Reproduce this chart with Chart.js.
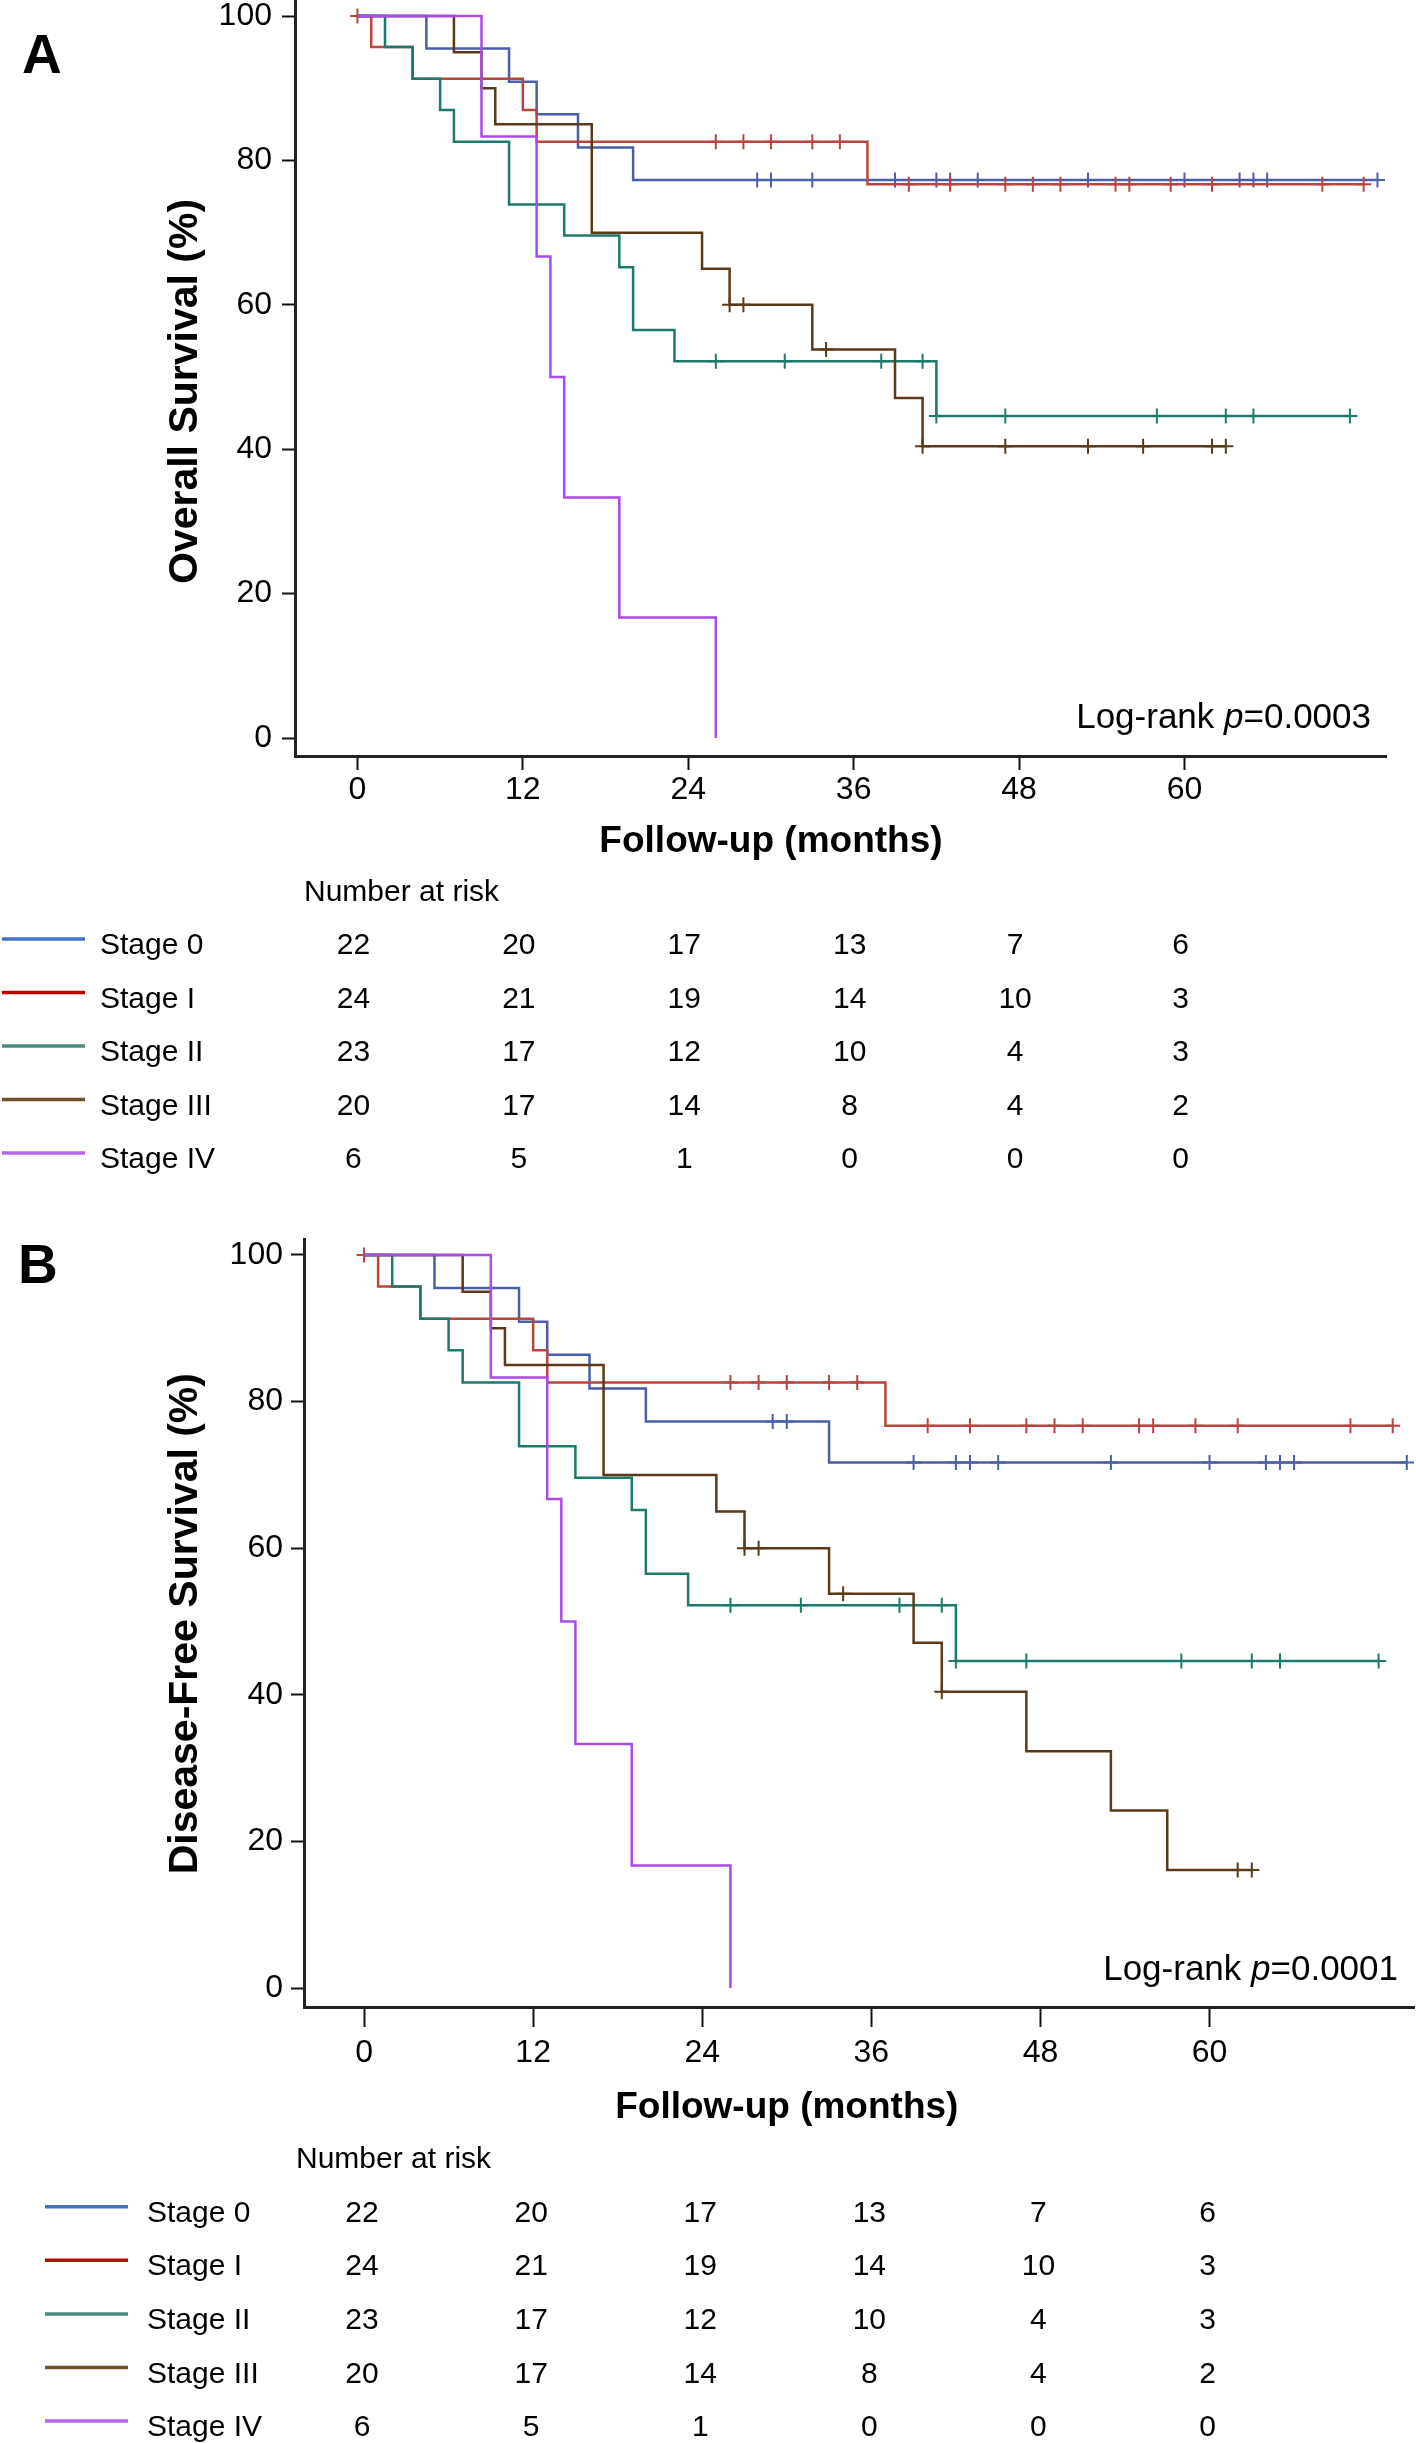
<!DOCTYPE html>
<html>
<head>
<meta charset="utf-8">
<script src="https://cdn.jsdelivr.net/npm/chart.js@4.4.1/dist/chart.umd.min.js"></script>
<style>
  body { margin: 0; background: #fff; }
  #wrap { position: relative; width: 1416px; height: 2443px; }
  canvas { position: absolute; left: 0; }
</style>
</head>
<body>
<div id="wrap">
  <canvas id="chartA" width="1416" height="1200" style="top:0"></canvas>
  <canvas id="chartB" width="1416" height="1243" style="top:1200px"></canvas>
</div>
<script>
const FONT = '"Liberation Sans", Arial, Helvetica, sans-serif'

// common stuff
const stageNames = ['Stage 0', 'Stage I', 'Stage II', 'Stage III', 'Stage IV']
const monthTicks = [0, 12, 24, 36, 48, 60]
const survTicks = [0, 20, 40, 60, 80, 100]
const curveColors = ['#4b5ea8', '#b9463d', '#1c7a6c', '#5a3a18', '#a84be8']
const keyColors = ['#4472c4', '#c00000', '#4a8b80', '#70502d', '#b36ae6']

// number at risk (same in both panels)
const riskStage0 = [22, 20, 17, 13, 7, 6]
const riskStage1 = [24, 21, 19, 14, 10, 3]
const riskStage2 = [23, 17, 12, 10, 4, 3]
const riskStage3 = [20, 17, 14, 8, 4, 2]
const riskStage4 = [6, 5, 1, 0, 0, 0]

// A - overall survival (event times in months, survival %, censored times)
const os0Times = [0, 5, 11, 13, 16, 20]
const os0Surv = [100, 95.5, 90.9, 86.4, 81.8, 77.3]
const os0Cens = [29, 30, 33, 39, 42, 43, 45, 53, 60, 64, 65, 66, 74]

const os1Times = [0, 1, 4, 12, 13, 37]
const os1Surv = [100, 95.7, 91.3, 87.0, 82.6, 76.7]
const os1Cens = [0, 26, 28, 30, 33, 35, 40, 43, 47, 49, 51, 55, 56, 59, 62, 70, 73]

const os2Times = [0, 2, 4, 6, 7, 11, 15, 19, 20, 23, 42]
const os2Surv = [100, 95.7, 91.3, 87.0, 82.6, 73.9, 69.6, 65.2, 56.5, 52.2, 44.6]
const os2Cens = [26, 31, 38, 41, 42, 47, 58, 63, 65, 72]

const os3Times = [0, 7, 9, 10, 17, 25, 27, 33, 39, 41]
const os3Surv = [100, 95, 90, 85, 70, 65, 60, 53.8, 47.1, 40.4]
const os3Cens = [27, 28, 34, 41, 47, 53, 57, 62, 63]

const os4Times = [0, 9, 13, 14, 15, 19, 26]
const os4Surv = [100, 83.3, 66.7, 50, 33.3, 16.7, 0]
const os4Cens = []

// B - disease free survival
const dfs0Times = [0, 5, 11, 13, 16, 20, 33]
const dfs0Surv = [100, 95.5, 90.9, 86.4, 81.8, 77.3, 71.7]
const dfs0Cens = [29, 30, 39, 42, 43, 45, 53, 60, 64, 65, 66, 74]

const dfs1Times = [0, 1, 4, 12, 13, 37]
const dfs1Surv = [100, 95.7, 91.3, 87.0, 82.6, 76.7]
const dfs1Cens = [0, 26, 28, 30, 33, 35, 40, 43, 47, 49, 51, 55, 56, 59, 62, 70, 73]

const dfs2Times = [0, 2, 4, 6, 7, 11, 15, 19, 20, 23, 42]
const dfs2Surv = [100, 95.7, 91.3, 87.0, 82.6, 73.9, 69.6, 65.2, 56.5, 52.2, 44.6]
const dfs2Cens = [26, 31, 38, 41, 42, 47, 58, 63, 65, 72]

const dfs3Times = [0, 7, 9, 10, 17, 25, 27, 33, 39, 41, 47, 53, 57]
const dfs3Surv = [100, 95, 90, 85, 70, 65, 60, 53.8, 47.1, 40.4, 32.3, 24.2, 16.1]
const dfs3Cens = [27, 28, 34, 41, 62, 63]

const dfs4Times = [0, 9, 13, 14, 15, 19, 26]
const dfs4Surv = [100, 83.3, 66.7, 50, 33.3, 16.7, 0]
const dfs4Cens = []


function survAt(times, surv, t){
    let s = surv[0]
    for (let i = 0; i < times.length; i++) {
        if (times[i] <= t) s = surv[i]
    }
    return s
}

function curvePoints(times, surv, cens){
    const pts = times.map((t, i) => ({x: t, y: surv[i]}))
    const lastT = times[times.length - 1]
    const end = Math.max(lastT, ...cens)
    if (end > lastT) pts.push({x: end, y: surv[surv.length - 1]})
    return pts
}

function buildDatasets(groups){
    const sets = []
    // stage IV first so it is painted on top (index 0 is drawn last)
    for (let k = groups.length - 1; k >= 0; k--) {
        const g = groups[k]
        sets.push({
            data: g.cens.map(t => ({x: t, y: survAt(g.times, g.surv, t)})),
            showLine: false,
            pointStyle: 'cross',
            pointRadius: 7.5,
            pointHoverRadius: 7.5,
            pointBorderWidth: 2,
            pointBorderColor: curveColors[k],
            borderColor: curveColors[k]
        })
        sets.push({
            data: curvePoints(g.times, g.surv, g.cens),
            stepped: true,
            borderColor: curveColors[k],
            borderWidth: 2.5,
            pointRadius: 0,
            fill: false
        })
    }
    return sets
}

const kmExtras = {
    id: 'kmExtras',
    afterDraw(chart, args, o){
        const ctx = chart.ctx
        const xs = chart.scales.x
        const ys = chart.scales.y
        ctx.save()
        ctx.fillStyle = '#000'

        // panel letter
        ctx.font = 'bold 55px ' + FONT
        ctx.textAlign = 'left'
        ctx.textBaseline = 'alphabetic'
        ctx.fillText(o.letter, o.letterX, o.letterY)

        // y title
        ctx.save()
        ctx.translate(o.yTitleX, ys.getPixelForValue(o.yTitleAt))
        ctx.rotate(-Math.PI / 2)
        ctx.font = 'bold 41px ' + FONT
        ctx.textAlign = 'center'
        ctx.textBaseline = 'middle'
        ctx.fillText(o.yTitle, 0, 0)
        ctx.restore()

        // x title, centred on the 0-60 range
        ctx.font = 'bold 37px ' + FONT
        ctx.textAlign = 'center'
        ctx.textBaseline = 'alphabetic'
        ctx.fillText('Follow-up (months)', xs.getPixelForValue(30), o.xTitleY)

        // log-rank text
        const parts = [['Log-rank ', ''], ['p', 'italic '], ['=' + o.pValue, '']]
        let w = 0
        parts.forEach(p => { ctx.font = p[1] + '35px ' + FONT; w += ctx.measureText(p[0]).width })
        let x = chart.chartArea.right - o.pRightGap - w
        const yBase = ys.getPixelForValue(0) - o.pAbove
        ctx.textAlign = 'left'
        parts.forEach(p => {
            ctx.font = p[1] + '35px ' + FONT
            ctx.fillText(p[0], x, yBase)
            x += ctx.measureText(p[0]).width
        })

        // number at risk table
        ctx.font = '30px ' + FONT
        ctx.textAlign = 'left'
        ctx.fillText('Number at risk', o.headX, o.headY + 11)
        o.risk.forEach((row, i) => {
            const y = o.rowY + i * o.rowGap
            ctx.strokeStyle = keyColors[i]
            ctx.lineWidth = 3.5
            ctx.beginPath()
            ctx.moveTo(o.keyX0, y - 4)
            ctx.lineTo(o.keyX1, y - 4)
            ctx.stroke()
            ctx.textAlign = 'left'
            ctx.fillText(stageNames[i], o.labelX, y + 11)
            ctx.textAlign = 'center'
            row.forEach((n, j) => {
                ctx.fillText(String(n), xs.getPixelForValue(monthTicks[j]) + o.numShift, y + 11)
            })
        })
        ctx.restore()
    }
}

function makeChart(id, groups, s){
    const tickFont = {size: 32, family: FONT}
    return new Chart(document.getElementById(id), {
        type: 'line',
        data: {datasets: buildDatasets(groups)},
        options: {
            responsive: false,
            animation: false,
            devicePixelRatio: 1,
            layout: {autoPadding: false, padding: s.padding},
            plugins: {legend: {display: false}, tooltip: {enabled: false}, kmExtras: s.extras},
            scales: {
                x: {
                    type: 'linear',
                    min: s.xMin, max: s.xMax,
                    afterBuildTicks: sc => { sc.ticks = monthTicks.map(v => ({value: v})) },
                    afterFit: sc => { sc.height = s.xHeight; sc.paddingLeft = 0; sc.paddingRight = 0 },
                    grid: {display: true, drawOnChartArea: false, drawTicks: true, tickLength: s.xTickLen, tickWidth: 2, tickColor: '#111'},
                    border: {display: true, color: '#222', width: 3},
                    ticks: {font: tickFont, color: '#000', padding: s.xTickPad, maxRotation: 0, autoSkip: false}
                },
                y: {
                    type: 'linear',
                    min: s.yMin, max: s.yMax,
                    afterBuildTicks: sc => { sc.ticks = survTicks.map(v => ({value: v})) },
                    afterFit: sc => { sc.width = s.yWidth; sc.paddingTop = 0; sc.paddingBottom = 0 },
                    grid: {display: true, drawOnChartArea: false, drawTicks: true, tickLength: 13, tickWidth: 2, tickColor: '#111'},
                    border: {display: true, color: '#222', width: 3},
                    ticks: {font: tickFont, color: '#000', padding: s.yTickPad, autoSkip: false}
                }
            }
        },
        plugins: [kmExtras]
    })
}

const risk = [riskStage0, riskStage1, riskStage2, riskStage3, riskStage4]

makeChart('chartA', [
    {times: os0Times, surv: os0Surv, cens: os0Cens},
    {times: os1Times, surv: os1Surv, cens: os1Cens},
    {times: os2Times, surv: os2Surv, cens: os2Cens},
    {times: os3Times, surv: os3Surv, cens: os3Cens},
    {times: os4Times, surv: os4Surv, cens: os4Cens}
], {
    padding: {left: 0, top: 0, right: 30, bottom: 384},
    xMin: -4.53, xMax: 74.62, yMin: -2.49, yMax: 102.22,
    xHeight: 60, yWidth: 295, xTickLen: 14, xTickPad: 1, yTickPad: 10,
    extras: {
        letter: 'A', letterX: 22, letterY: 73,
        yTitle: 'Overall Survival (%)', yTitleX: 186, yTitleAt: 48,
        xTitleY: 852, pValue: '0.0003', pRightGap: 15, pAbove: 10,
        risk: risk, headX: 304, headY: 890, rowY: 943, rowGap: 53.5,
        keyX0: 2, keyX1: 85, labelX: 100, numShift: -4
    }
})

makeChart('chartB', [
    {times: dfs0Times, surv: dfs0Surv, cens: dfs0Cens},
    {times: dfs1Times, surv: dfs1Surv, cens: dfs1Cens},
    {times: dfs2Times, surv: dfs2Surv, cens: dfs2Cens},
    {times: dfs3Times, surv: dfs3Surv, cens: dfs3Cens},
    {times: dfs4Times, surv: dfs4Surv, cens: dfs4Cens}
], {
    padding: {left: 0, top: 39, right: 2, bottom: 366},
    xMin: -4.26, xMax: 74.51, yMin: -2.59, yMax: 102.18,
    xHeight: 70, yWidth: 304, xTickLen: 20, xTickPad: 7, yTickPad: 8,
    extras: {
        letter: 'B', letterX: 18, letterY: 83,
        yTitle: 'Disease-Free Survival (%)', yTitleX: 186, yTitleAt: 49.7,
        xTitleY: 918, pValue: '0.0001', pRightGap: 16, pAbove: 8,
        risk: risk, headX: 296, headY: 957, rowY: 1010.7, rowGap: 53.6,
        keyX0: 45, keyX1: 128, labelX: 147, numShift: -2
    }
})
</script>
</body>
</html>
